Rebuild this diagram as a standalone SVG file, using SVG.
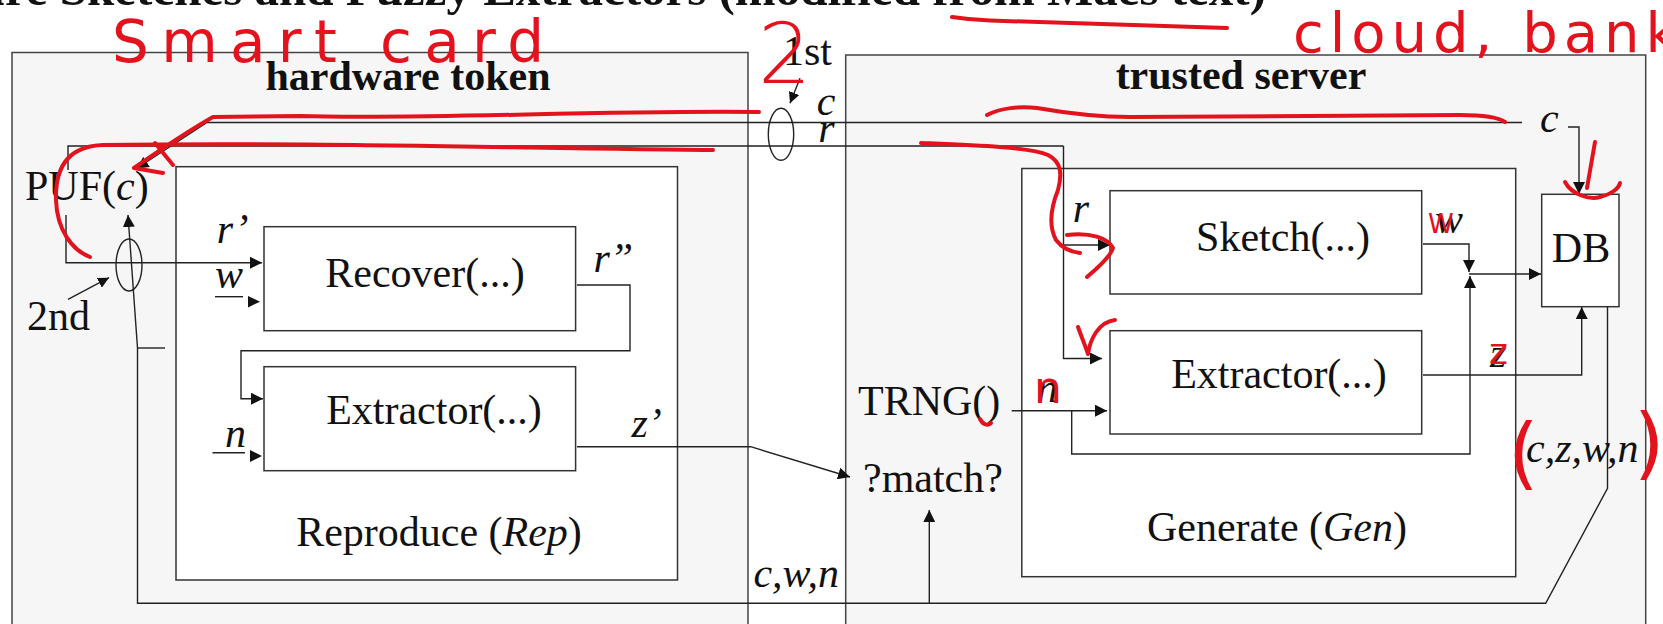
<svg xmlns="http://www.w3.org/2000/svg" width="1663" height="624" viewBox="0 0 1663 624">
<style>
text{font-family:"Liberation Serif","Times New Roman",serif;fill:#111}
.lbl{font-size:42px}
.it{font-style:italic}
.b{font-weight:bold}
.box{fill:#fff;stroke:#333;stroke-width:1.5}
.outer{fill:#f6f6f6;stroke:#444;stroke-width:1.5}
.ln{fill:none;stroke:#222;stroke-width:1.4}
.arr{marker-end:url(#ah)}
.arrs{marker-end:url(#ahs)}
.red{fill:none;stroke:#e3121d;stroke-width:4;stroke-linecap:round;stroke-linejoin:round}
.rt{fill:#e3121d;font-family:"DejaVu Sans","Noto Sans",sans-serif}
</style>
<defs>
<marker id="ah" markerUnits="userSpaceOnUse" markerWidth="12" markerHeight="12" refX="12" refY="6" orient="auto"><path d="M0,0 L12,6 L0,12 Z" fill="#111"/></marker>
<marker id="ahs" markerUnits="userSpaceOnUse" markerWidth="11" markerHeight="11" refX="11" refY="5.5" orient="auto"><path d="M0,0 L11,5.5 L0,11 Z" fill="#111"/></marker>
</defs>

<text class="b" font-size="49" x="1266" y="5" text-anchor="end">Secure Sketches and Fuzzy Extractors (modified from Maes text)</text>

<g id="hardware-token">
<rect class="outer" x="12" y="52.5" width="736" height="620"/>
<text class="lbl b" x="408" y="90" text-anchor="middle">hardware token</text>
</g>
<g id="trusted-server">
<rect class="outer" x="845.7" y="55" width="800" height="620"/>
<text class="lbl b" x="1241" y="89" text-anchor="middle">trusted server</text>
</g>
<g id="reproduce">
<rect class="box" x="176" y="166.7" width="501.5" height="413.3"/>
<text class="lbl" x="439" y="546" text-anchor="middle">Reproduce (<tspan class="it">Rep</tspan>)</text>
</g>
<g id="recover">
<rect class="box" x="264" y="226.7" width="311.6" height="104"/>
<text class="lbl" x="425" y="286.7" text-anchor="middle">Recover(...)</text>
</g>
<g id="rep-extractor">
<rect class="box" x="264" y="366.7" width="311.6" height="104"/>
<text class="lbl" x="434" y="424.3" text-anchor="middle">Extractor(...)</text>
</g>
<g id="generate">
<rect class="box" x="1021.8" y="168.5" width="493.9" height="408.2"/>
<text class="lbl" x="1277" y="540.7" text-anchor="middle">Generate (<tspan class="it">Gen</tspan>)</text>
</g>
<g id="sketch">
<rect class="box" x="1110" y="190.7" width="311.7" height="103.3"/>
<text class="lbl" x="1283" y="251" text-anchor="middle">Sketch(...)</text>
</g>
<g id="gen-extractor">
<rect class="box" x="1110" y="330.7" width="311.7" height="103.3"/>
<text class="lbl" x="1279" y="388.3" text-anchor="middle">Extractor(...)</text>
</g>
<g id="db">
<rect class="box" x="1541.7" y="194.3" width="77.3" height="112.4"/>
<text class="lbl" x="1581" y="262" text-anchor="middle">DB</text>
</g>
<g id="puf">
<text class="lbl" x="25" y="200">PUF(<tspan class="it">c</tspan>)</text>
</g>
<g id="trng">
<text class="lbl" x="858" y="415">TRNG()</text>
</g>
<g id="match">
<text class="lbl" x="863" y="491.7">?match?</text>
</g>

<g id="connectors">
<path class="ln arr" d="M1522 122.5 H207 L136.5 168.5"/>
<path class="ln arr" d="M1568 127 H1579 V194"/>
<path class="ln" d="M1063.5 146 H68 V170"/>
<path class="ln arr" d="M66 215 V262.7 H262"/>
<path class="ln arr" d="M1063.5 146 V358.5 H1102"/>
<path class="ln arr" d="M1063.5 245 H1110"/>
<path class="ln arr" d="M577 285 H630 V350.7 H241 V398.7 H263"/>
<path class="ln" d="M215 296.7 H243"/>
<path d="M248 296 L260 301.7 L248 307.4 Z" fill="#111"/>
<path class="ln" d="M212.5 452.7 H245"/>
<path d="M250 450 L262 456 L250 462 Z" fill="#111"/>
<path class="ln arr" d="M577 446.7 H750.7 L850 477"/>
<path class="ln arr" d="M1607.5 306.7 V488.3 L1545.7 603.3 H137.5 V348 L128 215"/>
<path class="ln" d="M137.5 348 H165"/>
<path class="ln arr" d="M929.3 603.3 V510"/>
<path class="ln arr" d="M1011.7 410.7 H1107"/>
<path class="ln arr" d="M1071.7 410.7 V454 H1470 V276"/>
<path class="ln arr" d="M1423 244 H1469 V272"/>
<path class="ln arr" d="M1469 274 H1541"/>
<path class="ln arr" d="M1423 375 H1581.7 V307"/>
<path class="ln arrs" d="M68 299.3 L109 277.7"/>
<path class="ln arrs" d="M800 78.3 L790 103.3"/>
<ellipse class="ln" cx="781" cy="134.3" rx="12.7" ry="26"/>
<ellipse class="ln" cx="129" cy="265" rx="13" ry="26"/>
</g>

<g id="labels">
<text class="lbl" x="783" y="65">1st</text>
<text class="lbl" x="27" y="330">2nd</text>
<text class="lbl it" x="816.7" y="115">c</text>
<text class="lbl it" x="818.3" y="141.7">r</text>
<text class="lbl it" x="216.7" y="243.3">r’</text>
<text class="lbl it" x="215" y="288.3">w</text>
<text class="lbl it" x="225" y="446.7">n</text>
<text class="lbl it" x="593.5" y="271.7">r”</text>
<text class="lbl it" x="631.4" y="436.7">z’</text>
<text class="lbl it" x="753.4" y="586.7">c,w,n</text>
<text class="lbl it" x="1072.7" y="221.7">r</text>
<text class="lbl it" x="1036.7" y="401.7">n</text>
<text class="lbl it" x="1435" y="233">w</text>
<text class="lbl it" x="1490" y="366.7">z</text>
<text class="lbl it" x="1540" y="132">c</text>
<text class="lbl it" x="1526" y="461.7">c,z,w,n</text>
</g>

<g id="annotations">
<path class="red" d="M952 17 C965 19 975 20 990 20.5 L1227 28"/>
<path class="red" d="M759 112 C600 110 420 120 300 116 L213 117 C190 130 160 150 134 168 L163 173 M155 143 L173 165"/>
<path class="red" d="M713 150 C500 148 300 142 103 145 C70 146 55 165 56 200 C57 230 72 250 90 257"/>
<path class="red" d="M987 115 C1000 108 1020 106 1037 108 C1060 112 1090 117 1130 117 L1460 115 C1480 115 1498 117 1505 122"/>
<path class="red" d="M921 143 C970 145 1030 147 1048 155 C1062 162 1062 175 1058 190 C1052 205 1048 225 1056 240 C1062 248 1072 252 1080 253"/>
<path class="red" d="M1067 235 C1090 232 1108 238 1113 248 C1110 258 1095 270 1087 277"/>
<path class="red" d="M1078 327 C1082 338 1086 348 1088 354 C1090 340 1098 322 1115 320"/>
<path class="red" d="M1595 142 L1587 188 M1565 182 C1572 195 1590 200 1600 197 C1612 194 1619 188 1620 183"/>
<path class="red" d="M980 419 C983 425 988 426 991 423"/>
<text class="rt" x="112" y="62" font-size="58" textLength="432" lengthAdjust="spacing">Smart card</text>
<text class="rt" x="1293" y="52" font-size="56" textLength="385" lengthAdjust="spacing">cloud, bank</text>
<text class="rt" x="758" y="83" font-size="84" font-weight="200">2</text>
<text class="rt" x="1428" y="233" font-size="26">W</text>
<text class="rt" x="1034" y="403" font-size="44">n</text>
<text class="rt" x="1489" y="364" font-size="36">z</text>
<text class="rt" x="1508" y="480" font-size="78">(</text>
<text class="rt" x="1634" y="470" font-size="78">)</text>
</g>
</svg>
